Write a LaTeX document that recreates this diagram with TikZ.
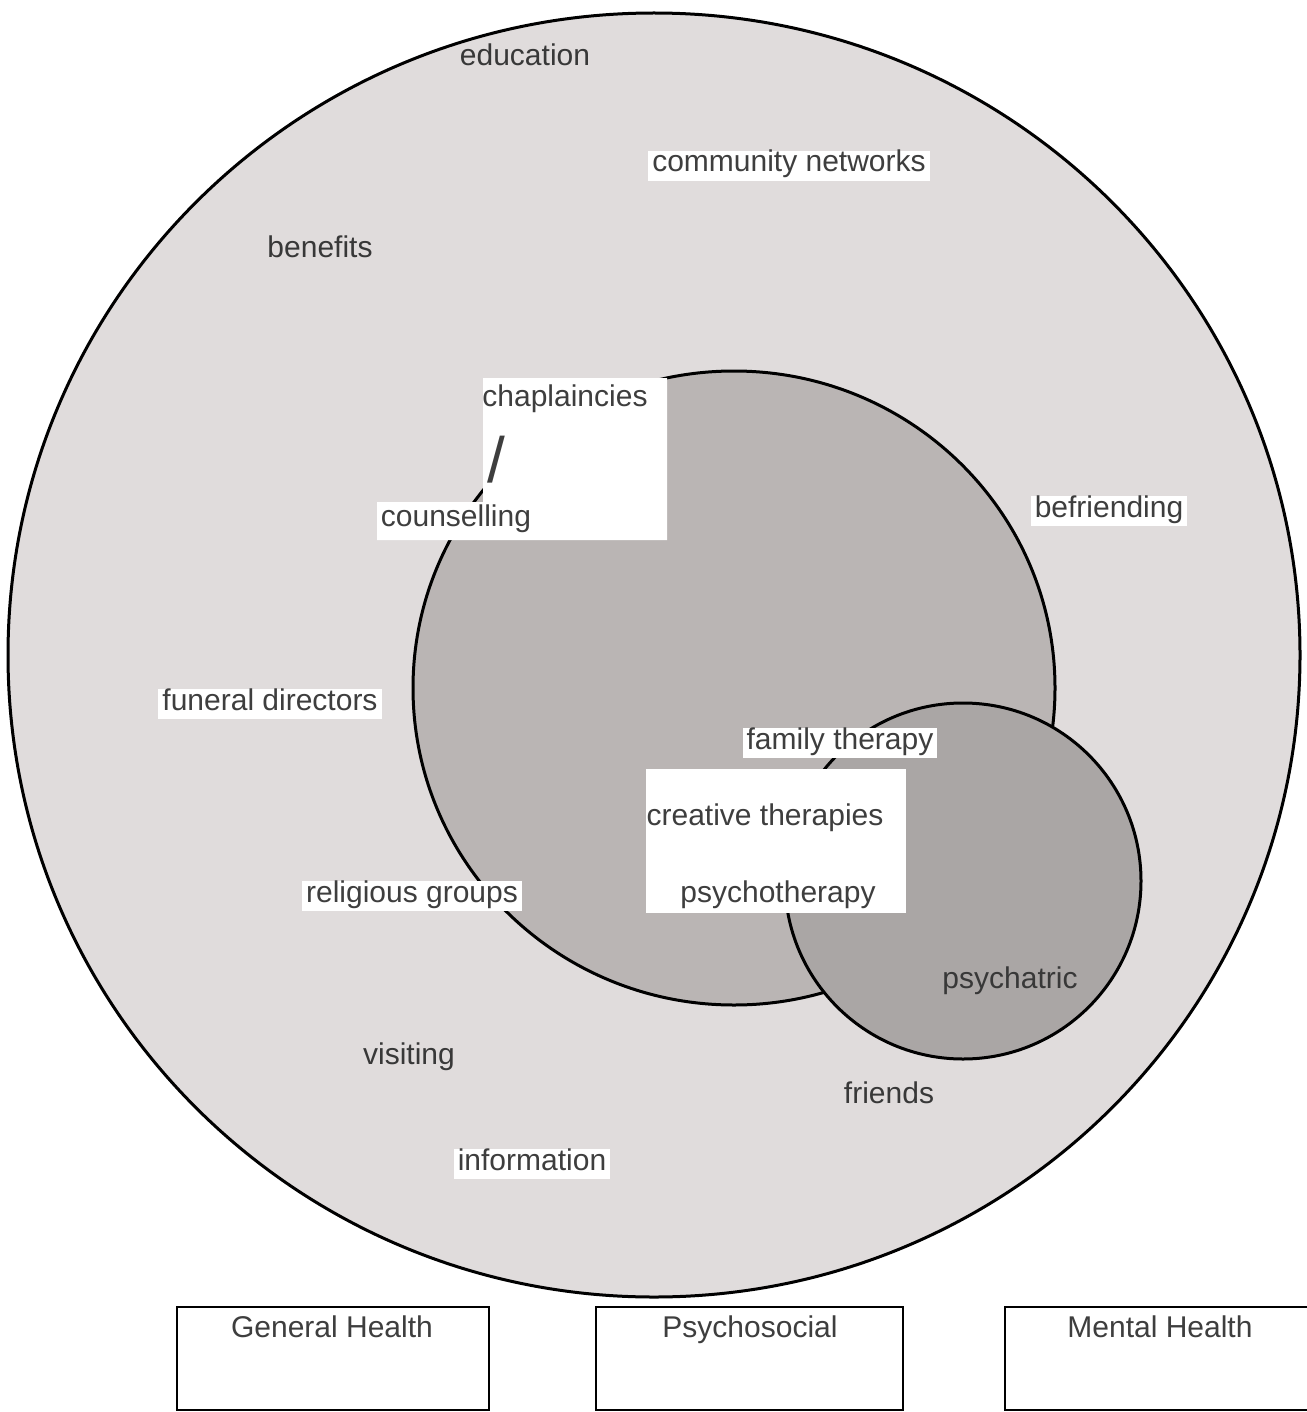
\documentclass[tikz,border=0pt]{standalone}
\usepackage{fontspec}
\setmainfont{Liberation Sans}
\usepackage{xcolor}
\usetikzlibrary{positioning}

\definecolor{outerfill}{HTML}{E0DCDC}
\definecolor{midfill}{HTML}{BAB5B4}
\definecolor{innerfill}{HTML}{AAA6A5}
\definecolor{inktext}{HTML}{3E3E3E}

\begin{document}
\begin{tikzpicture}[x=0.5pt,y=-0.5pt,
    txt/.style={font=\fontsize{15}{18}\selectfont, text=inktext, inner sep=0pt,
                text height=0.8em, text depth=0.2em},
    wlbl/.style={txt, fill=white, inner xsep=2pt, inner ysep=2.5pt},
    gtxt/.style={txt, text=black!78},
    catbox/.style={draw=black, line width=1pt, fill=white, minimum width=156pt, minimum height=51.5pt, inner sep=0pt}]
    \useasboundingbox (0,0) rectangle (1306,1412);
    \fill[white] (0,0) rectangle (1306,1412);

    % the three circles
    \draw[line width=1.5pt, fill=outerfill] (654,655) ellipse [x radius=323pt, y radius=321pt];
    \draw[line width=1.5pt, fill=midfill] (734,688) ellipse [x radius=160.5pt, y radius=158.5pt];
    \draw[line width=1.5pt, fill=innerfill] (963,881) circle [radius=89pt];

    % outer ring labels
    \node[gtxt] (edu) at (525,60) {education};
    \node[wlbl] (comm) at (789,166) {community networks};
    \node[gtxt] (ben) at (320,251) {benefits};
    \node[wlbl] (befr) at (1109,511) {befriending};
    \node[wlbl] (fun) at (270,704) {funeral directors};
    \node[wlbl] (relig) at (412,896) {religious groups};
    \node[gtxt] (visit) at (409,1058) {visiting};
    \node[gtxt] (friend) at (889,1097) {friends};
    \node[wlbl] (info) at (532,1164) {information};

    % psychosocial labels
    \fill[white] (483,378) -- (667,378) -- (667,540) -- (377,540) -- (377,502) -- (483,502) -- cycle;
    \node[txt] (chap) at (565,400) {chaplaincies};
    \node[txt, font=\fontsize{32}{36}\selectfont, text height=, text depth=] (slash) at (496,460) {/};
    \node[txt] (couns) at (456,520) {counselling};

    \node[wlbl] (fam) at (840,743) {family therapy};
    \fill[white] (646,769) rectangle (906,913);
    \node[txt] (creat) at (765,819) {creative therapies};
    \node[txt] (psyth) at (778,896) {psychotherapy};

    % mental health label
    \node[gtxt] (psych) at (1010,982) {psychatric};

    % key boxes
    \node[catbox] (gen) at (333,1358.5) {};
    \node[catbox, minimum width=153.5pt] (psoc) at (749.5,1358.5) {};
    \node[catbox, minimum width=152.5pt] (ment) at (1157.5,1358.5) {};
    \node[txt] (gentxt) at (332,1331) {General Health};
    \node[txt] (psoctxt) at (750,1331) {Psychosocial};
    \node[txt] (menttxt) at (1160,1331) {Mental Health};
\end{tikzpicture}
\end{document}
